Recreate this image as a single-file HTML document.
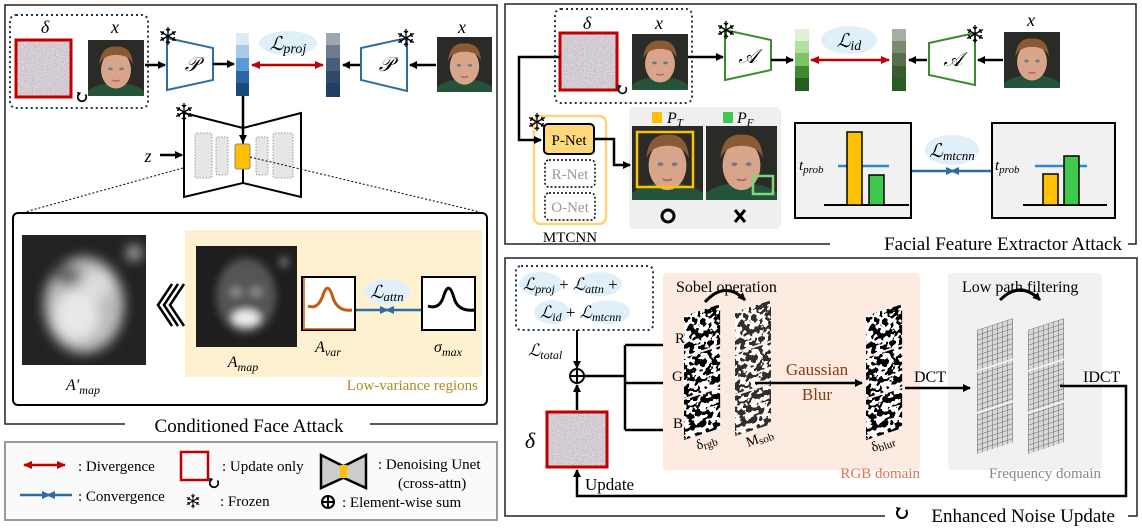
<!DOCTYPE html>
<html><head><meta charset="utf-8"><style>
html,body{margin:0;padding:0;background:#fff;}
svg{display:block;font-family:"Liberation Serif",serif;}
.m{font-style:italic;}
</style></head><body>
<svg width="1142" height="528" viewBox="0 0 1142 528" xmlns="http://www.w3.org/2000/svg">
<defs>
<filter id="noise" x="0" y="0" width="100%" height="100%">
<feTurbulence type="fractalNoise" baseFrequency="0.9" numOctaves="2" seed="3"/>
<feColorMatrix type="matrix" values="0.6 0.2 0.2 0 0.15  0.2 0.5 0.2 0 0.15  0.2 0.2 0.6 0 0.15  0 0 0 0 1"/>
</filter>
<filter id="sob" x="0" y="0" width="100%" height="100%">
<feTurbulence type="fractalNoise" baseFrequency="0.18" numOctaves="2" seed="7"/>
<feColorMatrix type="matrix" values="1 0 0 0 0 1 0 0 0 0 1 0 0 0 0 0 0 0 0 1"/>
<feComponentTransfer><feFuncR type="discrete" tableValues="0 1"/><feFuncG type="discrete" tableValues="0 1"/><feFuncB type="discrete" tableValues="0 1"/></feComponentTransfer>
</filter>
<filter id="blur4"><feGaussianBlur stdDeviation="4"/></filter>
<filter id="blur6"><feGaussianBlur stdDeviation="6"/></filter>
<pattern id="grid" width="5" height="5" patternUnits="userSpaceOnUse">
<rect width="5" height="5" fill="#d8d8d8"/><path d="M0 0H5M0 0V5" stroke="#666" stroke-width="1"/>
</pattern>
<marker id="ah" markerWidth="8" markerHeight="8" refX="7" refY="4" orient="auto" markerUnits="userSpaceOnUse"><path d="M0,0 L8,4 L0,8z" fill="#000"/></marker>
<marker id="rh" markerWidth="9" markerHeight="8" refX="8" refY="4" orient="auto-start-reverse" markerUnits="userSpaceOnUse"><path d="M0,0 L9,4 L0,8z" fill="#c00000"/></marker>
<marker id="bh" markerWidth="9" markerHeight="8" refX="8" refY="4" orient="auto" markerUnits="userSpaceOnUse"><path d="M0,0 L9,4 L0,8z" fill="#2e6da4"/></marker>
<symbol id="face" viewBox="0 0 60 60" preserveAspectRatio="none">
<rect width="60" height="60" fill="#2a2a26"/>
<ellipse cx="30" cy="62" rx="34" ry="16" fill="#24533a"/>
<ellipse cx="30" cy="32" rx="16" ry="20" fill="#d9a58a"/>
<path d="M12 26 Q14 6 30 7 Q47 6 48 26 Q44 16 30 16 Q17 16 12 26z" fill="#8a5a34"/>
<ellipse cx="24" cy="31" rx="2.5" ry="1.5" fill="#6a7c8a"/><ellipse cx="36" cy="31" rx="2.5" ry="1.5" fill="#6a7c8a"/>
<path d="M26 43 Q30 45 34 43" stroke="#a66" stroke-width="1.5" fill="none"/>
</symbol>
<symbol id="snow" viewBox="-10 -10 20 20">
<g stroke="#000" stroke-width="1.3" fill="none">
<path d="M0-9V9M-7.8-4.5L7.8 4.5M-7.8 4.5L7.8-4.5"/>
<path d="M-2-7L0-5L2-7M-2 7L0 5L2 7M-7 -1.5L-4.5-2.5L-5-5M7 1.5L4.5 2.5L5 5M-7 1.5L-4.5 2.5L-5 5M7-1.5L4.5-2.5L5-5"/>
</g></symbol>
<symbol id="cyc" viewBox="0 0 14 14"><path d="M4 3 A5 5 0 1 0 11 4" stroke="#000" stroke-width="2" fill="none"/><path d="M1 1 L6 2 L3 6z" fill="#000"/></symbol>
</defs>

<!-- ============ LEFT PANEL ============ -->
<path d="M125 424 H5 V5 H497 V424 H370" fill="none" stroke="#222" stroke-width="1.5"/>
<text x="249" y="432" font-size="19" text-anchor="middle">Conditioned Face Attack</text>

<rect x="10" y="15" width="138" height="93" rx="6" fill="none" stroke="#1a3550" stroke-width="2" stroke-dasharray="2,3"/>
<text x="45" y="33" font-size="18" class="m" text-anchor="middle">δ</text>
<text x="115" y="33" font-size="18" class="m" text-anchor="middle">x</text>
<rect x="16" y="40" width="55" height="57" filter="url(#noise)"/>
<rect x="16" y="40" width="55" height="57" fill="none" stroke="#c00000" stroke-width="3"/>
<use href="#cyc" x="76" y="91" width="12" height="12"/>
<use href="#face" x="88" y="40" width="56" height="56"/>
<line x1="145" y1="65" x2="165" y2="65" stroke="#000" stroke-width="2.5" marker-end="url(#ah)"/>
<polygon points="167,38 213,48 213,80 167,90" fill="#fff" stroke="#2e6da4" stroke-width="2"/>
<text x="192" y="71" font-size="20" class="m" text-anchor="middle">𝒫</text>
<use href="#snow" x="158" y="26" width="20" height="20"/>
<line x1="213" y1="64" x2="234" y2="64" stroke="#000" stroke-width="2.5" marker-end="url(#ah)"/>
<g>
<rect x="236" y="33" width="13" height="12" fill="#dde9f5"/><rect x="236" y="45" width="13" height="13" fill="#a8cbea"/><rect x="236" y="58" width="13" height="13" fill="#5a9bd6"/><rect x="236" y="71" width="13" height="12" fill="#2a66a4"/><rect x="236" y="83" width="13" height="13" fill="#1a4a7a"/>
</g>
<ellipse cx="288" cy="43" rx="29" ry="12" fill="#dff0fb"/>
<text x="288" y="50" font-size="19" class="m" text-anchor="middle">ℒ<tspan font-size="14" dy="3">proj</tspan></text>
<line x1="252" y1="65" x2="323" y2="65" stroke="#c00000" stroke-width="2.5" marker-start="url(#rh)" marker-end="url(#rh)"/>
<g>
<rect x="326" y="33" width="14" height="12" fill="#a0a6ae"/><rect x="326" y="45" width="14" height="13" fill="#6e7b8c"/><rect x="326" y="58" width="14" height="13" fill="#44607c"/><rect x="326" y="71" width="14" height="12" fill="#2f4a66"/><rect x="326" y="83" width="14" height="14" fill="#1e3f66"/>
</g>
<line x1="360" y1="65" x2="343" y2="65" stroke="#000" stroke-width="2.5" marker-end="url(#ah)"/>
<polygon points="361,48 407,38 407,91 361,80" fill="#fff" stroke="#2e6da4" stroke-width="2"/>
<text x="386" y="71" font-size="20" class="m" text-anchor="middle">𝒫</text>
<use href="#snow" x="396" y="28" width="20" height="20"/>
<line x1="436" y1="65" x2="410" y2="65" stroke="#000" stroke-width="2.5" marker-end="url(#ah)"/>
<text x="462" y="33" font-size="18" class="m" text-anchor="middle">x</text>
<use href="#face" x="437" y="37" width="55" height="55"/>

<!-- unet -->
<polygon points="184,113 243,128 243,183 184,197" fill="#fff" stroke="#000" stroke-width="2"/>
<polygon points="301,113 243,128 243,183 301,197" fill="#fff" stroke="#000" stroke-width="2"/>
<rect x="195" y="133" width="17" height="45" rx="2" fill="#e6e6e6" stroke="#999" stroke-dasharray="1.5,1.5"/>
<rect x="216" y="137" width="12" height="38" rx="2" fill="#e6e6e6" stroke="#999" stroke-dasharray="1.5,1.5"/>
<rect x="256" y="137" width="12" height="38" rx="2" fill="#e6e6e6" stroke="#999" stroke-dasharray="1.5,1.5"/>
<rect x="273" y="133" width="20" height="45" rx="2" fill="#e6e6e6" stroke="#999" stroke-dasharray="1.5,1.5"/>
<line x1="243" y1="96" x2="243" y2="142" stroke="#000" stroke-width="2.5" marker-end="url(#ah)"/>
<rect x="235" y="144" width="15" height="25" rx="2" fill="#ffc000" stroke="#888" stroke-width="1"/>
<use href="#snow" x="174" y="102" width="20" height="20"/>
<text x="148" y="162" font-size="18" class="m" text-anchor="middle">z</text>
<line x1="160" y1="155" x2="182" y2="155" stroke="#000" stroke-width="2.5" marker-end="url(#ah)"/>
<line x1="183" y1="168" x2="25" y2="212" stroke="#000" stroke-width="1" stroke-dasharray="2,2"/>
<line x1="250" y1="157" x2="480" y2="212" stroke="#000" stroke-width="1" stroke-dasharray="2,2"/>

<!-- inner -->
<rect x="13" y="213" width="474" height="192" rx="5" fill="#fff" stroke="#000" stroke-width="2"/>
<rect x="185" y="230" width="297" height="147" fill="#fdf1cf"/>
<svg x="22" y="235" width="124" height="130"><rect width="124" height="130" fill="#222"/>
<g filter="url(#blur6)"><ellipse cx="62" cy="70" rx="40" ry="48" fill="#bbb"/><ellipse cx="55" cy="80" rx="22" ry="25" fill="#e8e8e8"/><ellipse cx="75" cy="50" rx="15" ry="14" fill="#ddd"/><circle cx="112" cy="18" r="7" fill="#ccc"/><ellipse cx="45" cy="40" rx="14" ry="10" fill="#666"/></g></svg>
<path d="M172 284 L158 305 L172 326 M178 284 L164 305 L178 326 M184 284 L170 305 L184 326" stroke="#000" stroke-width="2.5" fill="none"/>
<svg x="196" y="246" width="101" height="101"><rect width="101" height="101" fill="#1e1e1e"/>
<g filter="url(#blur4)"><ellipse cx="50" cy="50" rx="30" ry="38" fill="#555"/><ellipse cx="50" cy="72" rx="14" ry="8" fill="#eee"/><ellipse cx="40" cy="46" rx="6" ry="4" fill="#999"/><ellipse cx="60" cy="46" rx="6" ry="4" fill="#999"/><circle cx="88" cy="16" r="5" fill="#777"/></g></svg>
<rect x="302" y="277" width="53" height="53" fill="#fff" stroke="#000" stroke-width="2"/>
<line x1="304" y1="278" x2="304" y2="330" stroke="#c55a11" stroke-width="1.5"/><line x1="304" y1="329" x2="354" y2="329" stroke="#c55a11" stroke-width="1.5"/>
<path d="M308 306 Q318 310 323 295 Q328 280 333 298 Q338 312 352 310" stroke="#c55a11" stroke-width="3" fill="none"/>
<rect x="422" y="277" width="53" height="53" fill="#fff" stroke="#000" stroke-width="2"/>
<path d="M428 306 Q440 310 444 295 Q449 280 454 298 Q458 312 475 310" stroke="#000" stroke-width="3" fill="none"/>
<ellipse cx="387" cy="292" rx="23" ry="13" fill="#dff0fb"/>
<text x="387" y="298" font-size="18" class="m" text-anchor="middle">ℒ<tspan font-size="13" dy="3">attn</tspan></text>
<line x1="356" y1="310" x2="388" y2="310" stroke="#2e6da4" stroke-width="2.5" marker-end="url(#bh)"/>
<line x1="421" y1="310" x2="386" y2="310" stroke="#2e6da4" stroke-width="2.5" marker-end="url(#bh)"/>
<text x="83" y="390" font-size="16" class="m" text-anchor="middle">A′<tspan font-size="12" dy="4">map</tspan></text>
<text x="243" y="367" font-size="16" class="m" text-anchor="middle">A<tspan font-size="12" dy="4">map</tspan></text>
<text x="328" y="352" font-size="16" class="m" text-anchor="middle">A<tspan font-size="12" dy="4">var</tspan></text>
<text x="448" y="352" font-size="16" class="m" text-anchor="middle">σ<tspan font-size="12" dy="4">max</tspan></text>
<text x="478" y="390" font-size="15" fill="#b08a1e" text-anchor="end">Low-variance regions</text>

<!-- legend -->
<rect x="5" y="442" width="492" height="78" fill="#fafafa" stroke="#999" stroke-width="2"/>
<line x1="24" y1="465" x2="65" y2="465" stroke="#c00000" stroke-width="2.5" marker-start="url(#rh)" marker-end="url(#rh)"/>
<text x="78" y="471" font-size="15">: Divergence</text>
<line x1="20" y1="495" x2="50" y2="495" stroke="#2e6da4" stroke-width="2.5" marker-end="url(#bh)"/>
<line x1="72" y1="495" x2="47" y2="495" stroke="#2e6da4" stroke-width="2.5" marker-end="url(#bh)"/>
<text x="78" y="501" font-size="15">: Convergence</text>
<rect x="181" y="452" width="27" height="28" fill="none" stroke="#c00000" stroke-width="2.5"/>
<use href="#cyc" x="208" y="477" width="12" height="12"/>
<text x="222" y="471" font-size="15">: Update only</text>
<use href="#snow" x="185" y="493" width="16" height="16"/>
<text x="220" y="506" font-size="15">: Frozen</text>
<polygon points="321,455 343,466 343,478 321,488" fill="#ccc" stroke="#000" stroke-width="2.5"/>
<polygon points="366,455 344,466 344,478 366,488" fill="#ccc" stroke="#000" stroke-width="2.5"/>
<rect x="340" y="465" width="7" height="13" fill="#ffc000"/>
<text x="378" y="469" font-size="15">: Denoising Unet</text>
<text x="398" y="488" font-size="15">(cross-attn)</text>
<circle cx="328" cy="502" r="6" fill="none" stroke="#000" stroke-width="2"/><path d="M322 502H334M328 496V508" stroke="#000" stroke-width="2"/>
<text x="342" y="507" font-size="15">: Element-wise sum</text>

<!-- ============ TOP RIGHT ============ -->
<path d="M830 244 H505 V4 H1136 V244 H1128" fill="none" stroke="#222" stroke-width="1.5"/>
<text x="1122" y="250" font-size="19" text-anchor="end">Facial Feature Extractor Attack</text>
<rect x="555" y="9" width="137" height="94" rx="6" fill="none" stroke="#1a3550" stroke-width="2" stroke-dasharray="2,3"/>
<text x="587" y="29" font-size="18" class="m" text-anchor="middle">δ</text>
<text x="659" y="29" font-size="18" class="m" text-anchor="middle">x</text>
<rect x="560" y="33" width="57" height="57" filter="url(#noise)"/>
<rect x="560" y="33" width="57" height="57" fill="none" stroke="#c00000" stroke-width="3"/>
<use href="#cyc" x="617" y="84" width="11" height="11"/>
<use href="#face" x="632" y="34" width="56" height="56"/>
<line x1="688" y1="57" x2="723" y2="57" stroke="#000" stroke-width="2.5" marker-end="url(#ah)"/>
<polygon points="725,30 771,40 771,70 725,80" fill="#fff" stroke="#3a8a2e" stroke-width="2"/>
<text x="748" y="63" font-size="20" class="m" text-anchor="middle">𝒜</text>
<use href="#snow" x="716" y="20" width="20" height="20"/>
<line x1="771" y1="60" x2="793" y2="60" stroke="#000" stroke-width="2.5" marker-end="url(#ah)"/>
<g>
<rect x="795" y="29" width="14" height="12" fill="#dff2d6"/><rect x="795" y="41" width="14" height="12" fill="#b3e0a0"/><rect x="795" y="53" width="14" height="13" fill="#7cc468"/><rect x="795" y="66" width="14" height="12" fill="#3e8a2e"/><rect x="795" y="78" width="14" height="13" fill="#285c22"/>
</g>
<ellipse cx="849" cy="40" rx="28" ry="14" fill="#dff0fb"/>
<text x="849" y="47" font-size="19" class="m" text-anchor="middle">ℒ<tspan font-size="14" dy="3">id</tspan></text>
<line x1="811" y1="60" x2="889" y2="60" stroke="#c00000" stroke-width="2.5" marker-start="url(#rh)" marker-end="url(#rh)"/>
<g>
<rect x="892" y="29" width="14" height="12" fill="#a7ada3"/><rect x="892" y="41" width="14" height="12" fill="#7a8a72"/><rect x="892" y="53" width="14" height="13" fill="#56704c"/><rect x="892" y="66" width="14" height="12" fill="#3a5a30"/><rect x="892" y="78" width="14" height="13" fill="#285c22"/>
</g>
<line x1="927" y1="60" x2="909" y2="60" stroke="#000" stroke-width="2.5" marker-end="url(#ah)"/>
<polygon points="929,43 975,33 975,85 929,75" fill="#fff" stroke="#3a8a2e" stroke-width="2"/>
<text x="953" y="66" font-size="20" class="m" text-anchor="middle">𝒜</text>
<use href="#snow" x="965" y="24" width="20" height="20"/>
<line x1="1003" y1="60" x2="978" y2="60" stroke="#000" stroke-width="2.5" marker-end="url(#ah)"/>
<text x="1031" y="26" font-size="18" class="m" text-anchor="middle">x</text>
<use href="#face" x="1004" y="32" width="56" height="56"/>

<rect x="534" y="116" width="72" height="108" rx="7" fill="none" stroke="#ffd27a" stroke-width="2.5"/>
<text x="570" y="242" font-size="15" text-anchor="middle">MTCNN</text>
<path d="M560 57 H519 V140 H541" fill="none" stroke="#000" stroke-width="2.5" marker-end="url(#ah)"/>
<rect x="544" y="124" width="50" height="30" rx="4" fill="#ffd97a" stroke="#000" stroke-width="2"/>
<text x="569" y="145" font-size="15" text-anchor="middle">P-Net</text>
<use href="#snow" x="527" y="112" width="20" height="20"/>
<rect x="545" y="160" width="50" height="27" rx="4" fill="#fff" stroke="#000" stroke-width="1.5" stroke-dasharray="2,2"/>
<text x="570" y="179" font-size="15" fill="#999" text-anchor="middle">R-Net</text>
<rect x="545" y="193" width="50" height="27" rx="4" fill="#fff" stroke="#000" stroke-width="1.5" stroke-dasharray="2,2"/>
<text x="570" y="212" font-size="15" fill="#999" text-anchor="middle">O-Net</text>
<rect x="629" y="107" width="152" height="122" rx="6" fill="#efefef"/>
<path d="M594 139 H614 V165 H630" fill="none" stroke="#000" stroke-width="2.5" marker-end="url(#ah)"/>
<use href="#face" x="632" y="126" width="71" height="74"/>
<use href="#face" x="706" y="126" width="71" height="74"/>
<rect x="637" y="132" width="56" height="55" fill="none" stroke="#ffc000" stroke-width="2.5"/>
<rect x="753" y="176" width="20" height="18" fill="none" stroke="#7cd67c" stroke-width="2.5"/>
<rect x="652" y="112" width="10" height="11" fill="#ffc000"/>
<text x="667" y="123" font-size="16" class="m">P<tspan font-size="11" dy="3">T</tspan></text>
<rect x="723" y="112" width="10" height="11" fill="#3ec94e"/>
<text x="737" y="123" font-size="16" class="m">P<tspan font-size="11" dy="3">F</tspan></text>
<circle cx="668" cy="216" r="6" fill="none" stroke="#000" stroke-width="3"/>
<path d="M735 210 L745 222 M745 210 L735 222" stroke="#000" stroke-width="3"/>

<rect x="795" y="123" width="116" height="95" fill="#f1f1f1" stroke="#000" stroke-width="2"/>
<rect x="992" y="123" width="123" height="95" fill="#f1f1f1" stroke="#000" stroke-width="2"/>
<line x1="824" y1="205" x2="909" y2="205" stroke="#000" stroke-width="2"/>
<line x1="838" y1="166" x2="889" y2="166" stroke="#2e8ad0" stroke-width="2.5"/>
<rect x="847" y="132" width="15" height="73" fill="#ffc000" stroke="#000" stroke-width="1.5"/>
<rect x="869" y="175" width="15" height="30" fill="#3ec94e" stroke="#000" stroke-width="1.5"/>
<text x="799" y="170" font-size="15" class="m">t<tspan font-size="11" dy="3">prob</tspan></text>
<line x1="1023" y1="205" x2="1107" y2="205" stroke="#000" stroke-width="2"/>
<line x1="1035" y1="166" x2="1087" y2="166" stroke="#2e8ad0" stroke-width="2.5"/>
<rect x="1043" y="174" width="15" height="31" fill="#ffc000" stroke="#000" stroke-width="1.5"/>
<rect x="1064" y="156" width="15" height="49" fill="#3ec94e" stroke="#000" stroke-width="1.5"/>
<text x="995" y="170" font-size="15" class="m">t<tspan font-size="11" dy="3">prob</tspan></text>
<ellipse cx="952" cy="150" rx="27" ry="15" fill="#dff0fb"/>
<text x="952" y="157" font-size="19" class="m" text-anchor="middle">ℒ<tspan font-size="13" dy="3">mtcnn</tspan></text>
<line x1="912" y1="171" x2="954" y2="171" stroke="#2e6da4" stroke-width="2.5" marker-end="url(#bh)"/>
<line x1="991" y1="171" x2="951" y2="171" stroke="#2e6da4" stroke-width="2.5" marker-end="url(#bh)"/>

<!-- ============ BOTTOM RIGHT ============ -->
<path d="M885 516 H505 V258 H1137 V516 H1128" fill="none" stroke="#222" stroke-width="1.5"/>
<use href="#cyc" x="895" y="506" width="14" height="14"/>
<text x="1115" y="522" font-size="19" text-anchor="end">Enhanced Noise Update</text>
<rect x="516" y="266" width="137" height="64" rx="5" fill="none" stroke="#1a3550" stroke-width="2" stroke-dasharray="2,3"/>
<ellipse cx="541" cy="284" rx="22" ry="12" fill="#dff0fb"/><ellipse cx="600" cy="284" rx="22" ry="12" fill="#dff0fb"/>
<ellipse cx="552" cy="312" rx="18" ry="12" fill="#dff0fb"/><ellipse cx="608" cy="312" rx="22" ry="12" fill="#dff0fb"/>
<text x="523" y="290" font-size="17" class="m">ℒ<tspan font-size="12" dy="3">proj</tspan><tspan dy="-3" font-style="normal"> + </tspan>ℒ<tspan font-size="12" dy="3">attn</tspan><tspan dy="-3" font-style="normal">  +</tspan></text>
<text x="540" y="318" font-size="17" class="m">ℒ<tspan font-size="12" dy="3">id</tspan><tspan dy="-3" font-style="normal">  + </tspan>ℒ<tspan font-size="12" dy="3">mtcnn</tspan></text>
<line x1="577" y1="330" x2="577" y2="368" stroke="#000" stroke-width="2" marker-end="url(#ah)"/>
<text x="528" y="356" font-size="17" class="m">ℒ<tspan font-size="12" dy="3">total</tspan></text>
<circle cx="577" cy="376" r="7" fill="#fff" stroke="#000" stroke-width="2"/><path d="M570 376H584M577 369V383" stroke="#000" stroke-width="2"/>
<line x1="577" y1="410" x2="577" y2="385" stroke="#000" stroke-width="2.5" marker-end="url(#ah)"/>
<rect x="547" y="412" width="60" height="55" filter="url(#noise)"/>
<rect x="547" y="412" width="60" height="55" fill="none" stroke="#c00000" stroke-width="3"/>
<text x="530" y="448" font-size="22" class="m" text-anchor="middle">δ</text>
<text x="585" y="490" font-size="17">Update</text>
<path d="M584 376 H625 M625 345 V430 M625 345 H685 M625 383 H685 M625 430 H685" fill="none" stroke="#000" stroke-width="2.5"/>
<rect x="663" y="273" width="257" height="197" rx="4" fill="#fdebe2"/>
<rect x="948" y="273" width="154" height="197" rx="4" fill="#f1f1f1"/>
<text x="675" y="343" font-size="15">R</text><text x="672" y="381" font-size="15">G</text><text x="673" y="428" font-size="15">B</text>
<g>
<g transform="translate(684,316) skewY(-18)"><rect width="36" height="40" filter="url(#sob)"/><rect y="42" width="36" height="40" filter="url(#sob)"/><rect y="84" width="36" height="40" filter="url(#sob)"/></g>
<g transform="translate(735,312) skewY(-18)"><rect width="36" height="40" filter="url(#sob)" opacity="0.8"/><rect y="42" width="36" height="40" filter="url(#sob)" opacity="0.8"/><rect y="84" width="36" height="40" filter="url(#sob)" opacity="0.8"/></g>
<g transform="translate(866,316) skewY(-18)"><rect width="36" height="40" filter="url(#sob)"/><rect y="42" width="36" height="40" filter="url(#sob)"/><rect y="84" width="36" height="40" filter="url(#sob)"/></g>
</g>
<path d="M705 302 Q725 280 745 300" stroke="#000" stroke-width="3" fill="none" marker-end="url(#ah)"/>
<text x="676" y="292" font-size="16">Sobel operation</text>
<line x1="755" y1="383" x2="862" y2="383" stroke="#000" stroke-width="2.5" marker-end="url(#ah)"/>
<text x="817" y="375" font-size="17" fill="#8a3a10" text-anchor="middle">Gaussian</text>
<text x="817" y="400" font-size="17" fill="#8a3a10" text-anchor="middle">Blur</text>
<text x="698" y="450" font-size="14" transform="rotate(-20 698 450)">δ<tspan font-size="11" dy="2">rgb</tspan></text>
<text x="748" y="447" font-size="14" transform="rotate(-20 748 447)">M<tspan font-size="11" dy="2">sob</tspan></text>
<text x="873" y="452" font-size="14" transform="rotate(-20 873 452)">δ<tspan font-size="11" dy="2">blur</tspan></text>
<text x="920" y="478" font-size="15" fill="#e8704a" text-anchor="end">RGB domain</text>
<line x1="905" y1="388" x2="970" y2="388" stroke="#000" stroke-width="2.5" marker-end="url(#ah)"/>
<text x="914" y="382" font-size="16">DCT</text>
<g transform="translate(977,330) skewY(-18)"><rect width="36" height="40" fill="url(#grid)"/><rect y="42" width="36" height="40" fill="url(#grid)"/><rect y="84" width="36" height="40" fill="url(#grid)"/></g>
<g transform="translate(1028,330) skewY(-18)"><rect width="36" height="40" fill="url(#grid)"/><rect y="42" width="36" height="40" fill="url(#grid)"/><rect y="84" width="36" height="40" fill="url(#grid)"/></g>
<path d="M1000 300 Q1020 280 1040 300" stroke="#000" stroke-width="3" fill="none" marker-end="url(#ah)"/>
<text x="962" y="292" font-size="16">Low path filtering</text>
<text x="1101" y="478" font-size="15" fill="#888" text-anchor="end">Frequency domain</text>
<text x="1083" y="382" font-size="16">IDCT</text>
<path d="M1060 386 H1126 V496 H577 V470" fill="none" stroke="#000" stroke-width="2.5" marker-end="url(#ah)"/>
</svg>
</body></html>
